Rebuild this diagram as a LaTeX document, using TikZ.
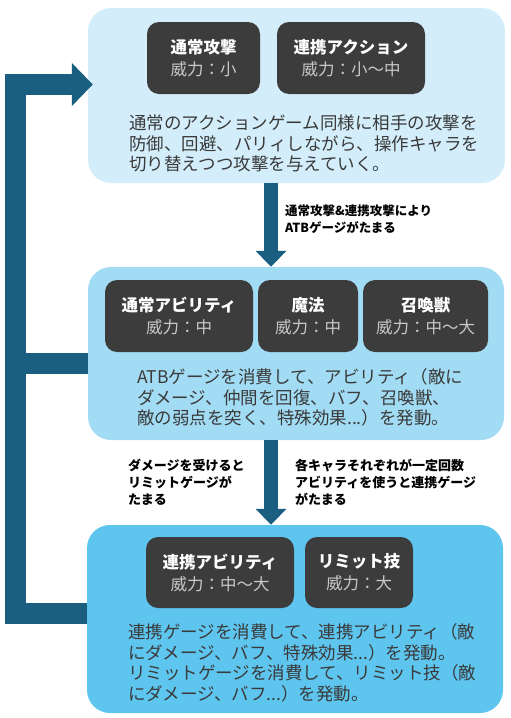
\documentclass[tikz,border=0pt]{standalone}
\usepackage{fontspec}
\setmainfont{Noto Sans CJK JP}
\usetikzlibrary{arrows.meta}
\definecolor{paleblue}{HTML}{D3EEFA}
\definecolor{midblue}{HTML}{A2DCF4}
\definecolor{deepblue}{HTML}{5EC5EF}
\definecolor{flowblue}{HTML}{1A5E80}
\definecolor{skillgray}{HTML}{3C3C3C}
\definecolor{powergray}{HTML}{C8C8C8}
\definecolor{bodytext}{HTML}{3A3A3A}
\begin{document}
\begin{tikzpicture}
  [x=1pt, y=-1pt,
  stage/.style = {rectangle, rounded corners=23pt, inner sep=0pt},
  skill/.style = {rectangle, rounded corners=12pt, fill=skillgray,
                  text=white, align=center, inner sep=0pt,
                  minimum height=72pt, font=\fontsize{16.5}{22}\selectfont},
  body/.style = {anchor=west, inner sep=0pt, align=left, text=bodytext,
                 font=\fontsize{17.5}{20.6}\selectfont},
  note/.style = {anchor=west, inner sep=0pt, align=left,
                 font=\bfseries\fontsize{12.5}{17}\selectfont},
  flow/.style = {draw=flowblue, line width=14pt,
                 -{Triangle[width=30pt,length=16pt]}},
  cycleline/.style = {draw=flowblue, line width=21pt, line join=miter}]
  \useasboundingbox (0,0) rectangle (511,718);
  % Etapas
  \node[stage, fill=paleblue, minimum width=417pt, minimum height=175pt] (stA) at (296.5,95.5) {};
  \node[stage, fill=midblue, minimum width=416pt, minimum height=173pt] (stB) at (296,353.5) {};
  \node[stage, fill=deepblue, minimum width=416pt, minimum height=188pt] (stC) at (295,619) {};
  % Flechas
  \coordinate (dropA) at (271,0);
  \coordinate (railT) at (15.5,84.5);
  \coordinate (railM) at (15.5,363);
  \coordinate (railB) at (15.5,613.5);
  \draw[flow] (stA.south -| dropA) -- (stB.north -| dropA);
  \draw[flow] (stB.south -| dropA) -- (stC.north -| dropA);
  \draw[cycleline, -{Triangle[width=42pt,length=21pt]}, shorten >=-5pt]
    (stC.west |- railB) -- (railB) -- (railT) -- (stA.west |- railT);
  \draw[cycleline] (railM) -- (stB.west |- railM);
  % Etapa 1
  \node[skill, minimum width=113pt] (atk) at (203.5,58) {{\bfseries 通常攻撃}\\{\color{powergray}威力：小}};
  \node[skill, minimum width=148pt] (linkact) at (351,58) {{\bfseries 連携アクション}\\{\color{powergray}威力：小〜中}};
  \node[body] (txtA) at (129,143.5) {通常のアクションゲーム同様に相手の攻撃を\\防御、回避、パリィしながら、操作キャラを\\切り替えつつ攻撃を与えていく。};
  \node[note] (noteA) at (285,219.5) {通常攻撃\&連携攻撃により\\ATBゲージがたまる};
  % Etapa 2
  \node[skill, minimum width=148pt] (abil) at (179,316) {{\bfseries 通常アビリティ}\\{\color{powergray}威力：中}};
  \node[skill, minimum width=100pt] (magic) at (308,316) {{\bfseries 魔法}\\{\color{powergray}威力：中}};
  \node[skill, minimum width=125pt] (summon) at (425.5,316) {{\bfseries 召喚獣}\\{\color{powergray}威力：中〜大}};
  \node[body] (txtB) at (137,397.5) {ATBゲージを消費して、アビリティ（敵に\\ダメージ、仲間を回復、バフ、召喚獣、\\敵の弱点を突く、特殊効果...）を発動。};
  \node[note, font=\bfseries\fontsize{13}{17}\selectfont] (noteL) at (128,482) {ダメージを受けると\\リミットゲージが\\たまる};
  \node[note, font=\bfseries\fontsize{13}{17}\selectfont] (noteR) at (295,482) {各キャラそれぞれが一定回数\\アビリティを使うと連携ゲージ\\がたまる};
  % Etapa 3
  \node[skill, minimum width=148pt, minimum height=71pt] (linkab) at (220,572.5) {{\bfseries 連携アビリティ}\\{\color{powergray}威力：中〜大}};
  \node[skill, minimum width=108pt, minimum height=71pt] (limit) at (359,572.5) {{\bfseries リミット技}\\{\color{powergray}威力：大}};
  \node[body] (txtC) at (128,663) {連携ゲージを消費して、連携アビリティ（敵\\にダメージ、バフ、特殊効果...）を発動。\\リミットゲージを消費して、リミット技（敵\\にダメージ、バフ...）を発動。};
\end{tikzpicture}
\end{document}
